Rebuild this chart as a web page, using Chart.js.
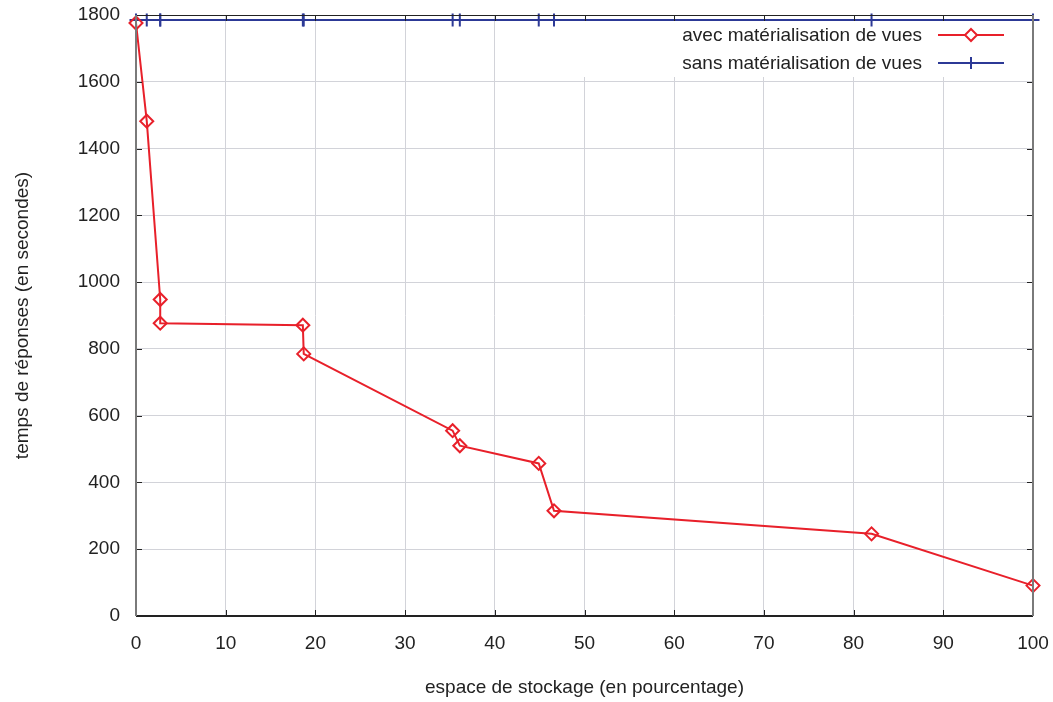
<!DOCTYPE html>
<html>
<head>
<meta charset="utf-8">
<script src="https://cdn.jsdelivr.net/npm/chart.js@4/dist/chart.umd.min.js"></script>
<style>
  html, body { margin: 0; padding: 0; background: #fff; }
  #wrap { width: 1053px; height: 702px; position: relative; }
</style>
</head>
<body>
<div id="wrap"><canvas id="respChart"></canvas></div>
<script>
// storage space (percent) on x, response time (seconds) on y
const storagePct = [0, 1.2, 2.7, 2.7, 18.6, 18.7, 35.3, 36.1, 44.9, 46.6, 82.0, 100];
const avecVues = [1776, 1482, 948, 877, 871, 785, 555, 510, 457, 315, 246, 91];
const sansVues = [1785, 1785, 1785, 1785, 1785, 1785, 1785, 1785, 1785, 1785, 1785, 1785];
const seriesLabels = ['avec matérialisation de vues', 'sans matérialisation de vues'];
const xTitle = 'espace de stockage (en pourcentage)';
const yTitle = 'temps de réponses (en secondes)';

const RED = '#e8202a';
const BLUE = '#2c3996';
const FONT = '"Liberation Sans", Arial, Helvetica, sans-serif';
const FSIZE = 19;

function toPoints(xs, ys) {
    return xs.map((x, i) => ({ x: x, y: ys[i] }));
}

// gnuplot style frame: box border with inward ticks on all four sides
const framePlugin = {
    id: 'frame',
    beforeDatasetsDraw(chart) {
        // white key box hides the grid behind the legend
        const { ctx, chartArea } = chart;
        ctx.save();
        ctx.fillStyle = '#ffffff';
        ctx.fillRect(555, chartArea.top, chartArea.right - 555, 62);
        ctx.restore();
    },
    afterDraw(chart) {
        const { ctx, chartArea: a, scales } = chart;
        ctx.save();
        ctx.lineWidth = 1;
        ctx.strokeStyle = '#222';
        const tl = 6;
        scales.x.ticks.forEach(t => {
            const px = Math.round(scales.x.getPixelForValue(t.value)) + 0.5;
            ctx.beginPath();
            ctx.moveTo(px, a.bottom); ctx.lineTo(px, a.bottom - tl);
            ctx.moveTo(px, a.top); ctx.lineTo(px, a.top + tl);
            ctx.stroke();
        });
        scales.y.ticks.forEach(t => {
            const py = Math.round(scales.y.getPixelForValue(t.value)) + 0.5;
            ctx.beginPath();
            ctx.moveTo(a.left, py); ctx.lineTo(a.left + tl, py);
            ctx.moveTo(a.right, py); ctx.lineTo(a.right - tl, py);
            ctx.stroke();
        });
        // borders
        ctx.strokeStyle = '#222';
        ctx.lineWidth = 1.2;
        ctx.beginPath();
        ctx.moveTo(a.left, a.top + 0.5); ctx.lineTo(a.right, a.top + 0.5);
        ctx.stroke();
        ctx.lineWidth = 1.8;
        ctx.beginPath();
        ctx.moveTo(a.left, a.bottom); ctx.lineTo(a.right, a.bottom);
        ctx.stroke();
        ctx.strokeStyle = '#7a7a7a';
        ctx.lineWidth = 2;
        ctx.beginPath();
        ctx.moveTo(a.left, a.top); ctx.lineTo(a.left, a.bottom);
        ctx.moveTo(a.right, a.top); ctx.lineTo(a.right, a.bottom);
        ctx.stroke();
        ctx.restore();
    },
    afterDatasetsDraw(chart) {
        // key: text on the left, sample line with marker on the right
        const { ctx } = chart;
        const rows = [35, 63];
        ctx.save();
        ctx.font = FSIZE + 'px ' + FONT;
        ctx.textAlign = 'right';
        ctx.textBaseline = 'middle';
        chart.data.datasets.forEach((ds, i) => {
            const y = rows[i];
            ctx.fillStyle = '#222';
            ctx.fillText(ds.label, 922, y + 1);
            ctx.strokeStyle = ds.borderColor;
            ctx.lineWidth = ds.borderWidth;
            ctx.beginPath();
            ctx.moveTo(938, y); ctx.lineTo(1004, y);
            ctx.stroke();
            ctx.lineWidth = ds.pointBorderWidth;
            ctx.beginPath();
            const r = 6;
            if (ds.pointStyle === 'rectRot') {
                ctx.fillStyle = '#fff';
                ctx.moveTo(971, y - r); ctx.lineTo(971 + r, y);
                ctx.lineTo(971, y + r); ctx.lineTo(971 - r, y);
                ctx.closePath();
                ctx.fill();
            } else {
                ctx.moveTo(971, y - r); ctx.lineTo(971, y + r);
                ctx.moveTo(971 - r, y); ctx.lineTo(971 + r, y);
            }
            ctx.stroke();
        });
        ctx.restore();
    }
};

const ctx = document.getElementById('respChart').getContext('2d');
const respChart = new Chart(ctx, {
    type: 'line',
    data: {
        datasets: [{
            label: seriesLabels[0],
            data: toPoints(storagePct, avecVues),
            borderColor: RED,
            borderWidth: 2,
            pointStyle: 'rectRot',
            pointRadius: 6.5,
            pointBorderWidth: 2,
            pointBorderColor: RED,
            pointBackgroundColor: 'rgba(255,255,255,0)',
            tension: 0,
            clip: false
        }, {
            label: seriesLabels[1],
            data: toPoints(storagePct, sansVues),
            borderColor: BLUE,
            borderWidth: 2.2,
            pointStyle: 'cross',
            pointRadius: 6.5,
            pointBorderWidth: 2,
            pointBorderColor: BLUE,
            tension: 0,
            clip: false
        }]
    },
    options: {
        responsive: true,
        maintainAspectRatio: false,
        animation: false,
        layout: { padding: { top: 15, right: 20, left: 0, bottom: 0 } },
        plugins: {
            legend: { display: false },
            tooltip: { enabled: false }
        },
        scales: {
            x: {
                type: 'linear',
                min: 0,
                max: 100,
                ticks: {
                    stepSize: 10,
                    padding: 16,
                    color: '#222',
                    font: { family: FONT, size: FSIZE },
                    callback: v => String(v)
                },
                grid: { color: '#d2d3d9', lineWidth: 1, drawTicks: false },
                border: { display: false },
                title: {
                    display: true,
                    text: xTitle,
                    color: '#222',
                    font: { family: FONT, size: FSIZE },
                    padding: { top: 0, bottom: 3 }
                },
                afterFit(scale) {
                    scale.height = 86;
                    scale.paddingLeft = 0;
                    scale.paddingRight = 0;
                }
            },
            y: {
                min: 0,
                max: 1800,
                ticks: {
                    stepSize: 200,
                    padding: 16,
                    color: '#222',
                    font: { family: FONT, size: FSIZE },
                    callback: v => String(v)
                },
                grid: { color: '#d2d3d9', lineWidth: 1, drawTicks: false },
                border: { display: false },
                title: {
                    display: true,
                    text: yTitle,
                    color: '#222',
                    font: { family: FONT, size: FSIZE },
                    padding: { top: 11, bottom: 0 }
                },
                afterFit(scale) {
                    scale.width = 136;
                    scale.paddingTop = 0;
                    scale.paddingBottom = 0;
                }
            }
        }
    },
    plugins: [framePlugin]
});
</script>
</body>
</html>
